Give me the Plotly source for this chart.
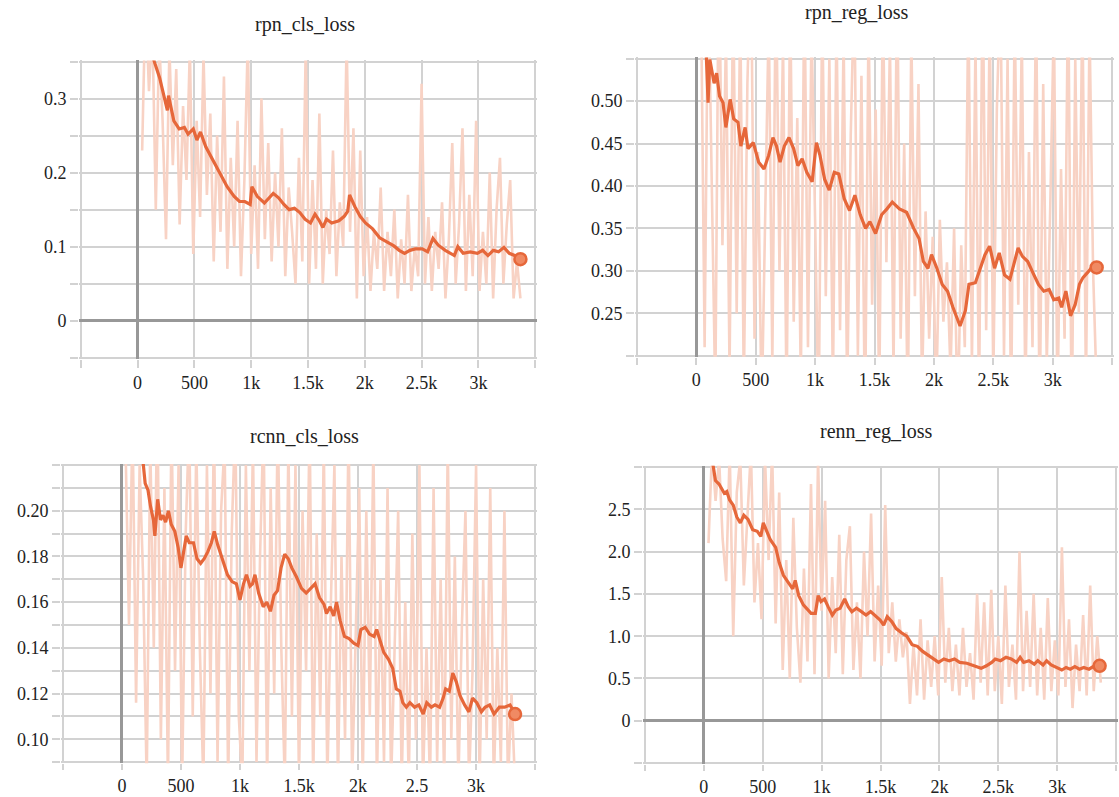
import plotly.graph_objects as go

# ---------------- data ----------------
# raw (unsmoothed) series: step start, step interval, values
rpn_cls_raw_start, rpn_cls_raw_step = 40, 30
rpn_cls_raw = [
    0.23, 0.44, 0.31, 0.40, 0.15, 0.38, 0.27, 0.11, 0.37, 0.21,
    0.34, 0.13, 0.29, 0.19, 0.37, 0.09, 0.27, 0.14, 0.36, 0.17,
    0.28, 0.08, 0.25, 0.12, 0.33, 0.07, 0.22, 0.10, 0.27, 0.06,
    0.19, 0.38, 0.09, 0.21, 0.07, 0.30, 0.11, 0.24, 0.08, 0.20,
    0.10, 0.26, 0.06, 0.18, 0.12, 0.05, 0.22, 0.08, 0.37, 0.05,
    0.19, 0.07, 0.28, 0.05, 0.15, 0.09, 0.23, 0.06, 0.16, 0.10,
    0.38, 0.12, 0.26, 0.03, 0.23, 0.06, 0.14, 0.04, 0.12, 0.07,
    0.18, 0.04, 0.12, 0.06, 0.15, 0.03, 0.11, 0.05, 0.17, 0.04,
    0.10, 0.06, 0.32, 0.05, 0.14, 0.04, 0.12, 0.07, 0.16, 0.03,
    0.11, 0.24, 0.05, 0.13, 0.26, 0.04, 0.17, 0.06, 0.27, 0.04,
    0.12, 0.05, 0.20, 0.03, 0.15, 0.22, 0.05, 0.13, 0.19, 0.03,
    0.08, 0.03,
]
rpn_cls_smooth_steps = [
    40, 147, 194, 240, 262, 272, 319, 366, 412, 444, 490, 522, 553, 600, 647,
    694, 741, 788, 850, 897, 944, 991, 1006, 1053, 1116, 1147, 1194, 1241,
    1288, 1334, 1381, 1428, 1475, 1522, 1562, 1600, 1631, 1663, 1709, 1772,
    1819, 1850, 1866, 1913, 1959, 2006, 2069, 2131, 2194, 2256, 2303, 2350,
    2397, 2444, 2506, 2553, 2600, 2647, 2709, 2788, 2819, 2866, 2928, 2991,
    3038, 3084, 3131, 3178, 3225, 3272, 3319, 3370,
]
rpn_cls_smooth = [
    0.42, 0.350, 0.328, 0.301, 0.284, 0.304, 0.270, 0.259, 0.261, 0.252,
    0.259, 0.244, 0.255, 0.235, 0.221, 0.208, 0.195, 0.181, 0.168, 0.161,
    0.161, 0.157, 0.181, 0.168, 0.159, 0.164, 0.172, 0.166, 0.157, 0.150,
    0.152, 0.146, 0.137, 0.132, 0.144, 0.135, 0.126, 0.137, 0.132, 0.135,
    0.141, 0.148, 0.170, 0.154, 0.141, 0.132, 0.124, 0.112, 0.106, 0.101,
    0.095, 0.091, 0.095, 0.097, 0.097, 0.093, 0.111, 0.102, 0.095, 0.088,
    0.100, 0.091, 0.093, 0.091, 0.095, 0.088, 0.095, 0.093, 0.099, 0.091,
    0.088, 0.083,
]

rpn_reg_raw_start, rpn_reg_raw_step = 40, 30
rpn_reg_raw = [
    0.62, 0.21, 0.66, 0.40, 0.15, 0.70, 0.33, 0.58, 0.18, 0.64,
    0.25, 0.61, 0.16, 0.52, 0.68, 0.22, 0.44, 0.13, 0.39, 0.60,
    0.19, 0.66, 0.30, 0.57, 0.14, 0.63, 0.24, 0.48, 0.17, 0.65,
    0.21, 0.59, 0.36, 0.12, 0.62, 0.27, 0.55, 0.16, 0.60, 0.23,
    0.58, 0.15, 0.46, 0.64, 0.20, 0.53, 0.11, 0.60, 0.26, 0.49,
    0.14, 0.63, 0.31, 0.57, 0.18, 0.66, 0.22, 0.45, 0.13, 0.58,
    0.27, 0.52, 0.16, 0.37, 0.22, 0.34, 0.15, 0.36, 0.24, 0.31,
    0.18, 0.35, 0.12, 0.33, 0.21, 0.62, 0.19, 0.57, 0.14, 0.66,
    0.23, 0.60, 0.17, 0.49, 0.64, 0.20, 0.55, 0.13, 0.61, 0.26,
    0.58, 0.15, 0.44, 0.21, 0.63, 0.12, 0.52, 0.19, 0.38, 0.60,
    0.14, 0.42, 0.22, 0.65, 0.11, 0.55, 0.25, 0.62, 0.16, 0.59,
    0.30, 0.16,
]
rpn_reg_smooth_steps = [
    80, 99, 114, 150, 171, 195, 225, 249, 285, 315, 351, 375, 411, 435, 480,
    525, 570, 609, 645, 675, 705, 741, 780, 819, 855, 891, 930, 975, 1011,
    1041, 1080, 1119, 1161, 1200, 1245, 1290, 1335, 1380, 1425, 1461, 1509,
    1560, 1605, 1650, 1710, 1770, 1830, 1875, 1911, 1950, 1980, 2025, 2070,
    2115, 2160, 2220, 2265, 2295, 2349, 2391, 2430, 2469, 2511, 2550, 2595,
    2640, 2670, 2709, 2745, 2790, 2829, 2880, 2925, 2970, 3009, 3051, 3075,
    3111, 3150, 3189, 3225, 3255, 3300, 3345, 3370,
]
rpn_reg_smooth = [
    0.570, 0.498, 0.549, 0.521, 0.533, 0.506, 0.498, 0.469, 0.502, 0.479,
    0.475, 0.447, 0.469, 0.444, 0.451, 0.428, 0.420, 0.436, 0.457, 0.447,
    0.428, 0.447, 0.457, 0.444, 0.424, 0.432, 0.416, 0.405, 0.451, 0.436,
    0.408, 0.395, 0.416, 0.414, 0.385, 0.371, 0.389, 0.366, 0.350, 0.358,
    0.344, 0.366, 0.373, 0.381, 0.373, 0.369, 0.350, 0.338, 0.311, 0.303,
    0.319, 0.303, 0.284, 0.276, 0.257, 0.235, 0.253, 0.284, 0.286, 0.303,
    0.319, 0.329, 0.303, 0.321, 0.295, 0.290, 0.307, 0.327, 0.317, 0.311,
    0.299, 0.284, 0.276, 0.278, 0.266, 0.268, 0.257, 0.276, 0.247, 0.260,
    0.284, 0.292, 0.299, 0.307, 0.304,
]

rcnn_cls_raw_start, rcnn_cls_raw_step = 30, 30
rcnn_cls_raw = [
    0.23, 0.15, 0.24, 0.116, 0.22, 0.17, 0.08, 0.23, 0.14, 0.25,
    0.10, 0.21, 0.08, 0.24, 0.13, 0.22, 0.08, 0.19, 0.24, 0.11,
    0.23, 0.14, 0.08, 0.22, 0.12, 0.24, 0.09, 0.20, 0.23, 0.08,
    0.19, 0.24, 0.11, 0.08, 0.22, 0.13, 0.23, 0.09, 0.18, 0.24,
    0.08, 0.21, 0.12, 0.24, 0.14, 0.08, 0.23, 0.11, 0.22, 0.08,
    0.20, 0.13, 0.24, 0.08, 0.19, 0.11, 0.23, 0.08, 0.16, 0.22,
    0.08, 0.18, 0.10, 0.24, 0.08, 0.15, 0.21, 0.08, 0.20, 0.11,
    0.23, 0.08, 0.17, 0.09, 0.21, 0.08, 0.14, 0.20, 0.08, 0.16,
    0.08, 0.19, 0.10, 0.22, 0.08, 0.14, 0.08, 0.21, 0.09, 0.17,
    0.08, 0.23, 0.10, 0.18, 0.08, 0.15, 0.20, 0.08, 0.13, 0.22,
    0.08, 0.17, 0.10, 0.21, 0.08, 0.14, 0.09, 0.20, 0.08, 0.12,
    0.08,
]
rcnn_cls_smooth_steps = [
    170, 197, 221, 242, 267, 279, 303, 327, 348, 370, 394, 418, 448, 476, 500,
    521, 545, 570, 606, 636, 667, 697, 727, 758, 782, 812, 848, 894, 933,
    970, 1000, 1030, 1055, 1085, 1106, 1127, 1158, 1197, 1227, 1258, 1288,
    1318, 1348, 1379, 1409, 1439, 1479, 1521, 1561, 1600, 1636, 1673, 1712,
    1733, 1764, 1794, 1818, 1848, 1885, 1924, 1964, 2000, 2024, 2061, 2097,
    2136, 2158, 2182, 2218, 2258, 2294, 2324, 2355, 2379, 2409, 2439, 2479,
    2515, 2552, 2582, 2621, 2652, 2691, 2721, 2742, 2773, 2803, 2833, 2864,
    2903, 2939, 2970, 3006, 3045, 3076, 3115, 3152, 3197, 3242, 3288, 3330,
]
rcnn_cls_smooth = [
    0.226, 0.212, 0.209, 0.202, 0.196, 0.189, 0.205, 0.196, 0.198, 0.195,
    0.200, 0.194, 0.191, 0.184, 0.175, 0.181, 0.189, 0.186, 0.186, 0.179,
    0.177, 0.179, 0.182, 0.186, 0.191, 0.185, 0.179, 0.172, 0.169, 0.168,
    0.161, 0.168, 0.172, 0.167, 0.168, 0.172, 0.164, 0.158, 0.160, 0.156,
    0.163, 0.165, 0.175, 0.181, 0.179, 0.175, 0.171, 0.166, 0.164, 0.166,
    0.168, 0.162, 0.159, 0.155, 0.158, 0.154, 0.160, 0.152, 0.145, 0.144,
    0.142, 0.141, 0.148, 0.149, 0.146, 0.145, 0.148, 0.144, 0.138, 0.135,
    0.131, 0.122, 0.121, 0.116, 0.114, 0.116, 0.114, 0.115, 0.111, 0.116,
    0.114, 0.115, 0.114, 0.118, 0.122, 0.121, 0.129, 0.125, 0.119, 0.115,
    0.112, 0.118, 0.116, 0.112, 0.114, 0.115, 0.111, 0.114, 0.114, 0.115,
    0.111,
]

rcnn_reg_raw_start, rcnn_reg_raw_step = 40, 30
rcnn_reg_raw = [
    2.10, 3.20, 2.60, 3.10, 2.15, 1.65, 3.20, 1.00, 2.70, 3.10,
    1.60, 2.50, 3.20, 1.40, 2.10, 1.20, 3.10, 1.90, 3.20, 1.15,
    2.70, 0.60, 1.90, 0.50, 2.40, 1.10, 0.45, 1.80, 0.70, 2.80,
    0.55, 3.10, 1.30, 2.60, 0.50, 1.70, 0.80, 2.20, 0.55, 1.90,
    2.30, 0.60, 1.40, 0.50, 2.00, 1.00, 2.45, 0.70, 1.60, 0.65,
    2.55, 0.80, 1.40, 0.70, 1.20, 0.75, 1.05, 0.20, 0.90, 0.30,
    1.20, 0.25, 0.95, 0.40, 1.00, 0.30, 1.70, 0.45, 1.10, 0.35,
    0.90, 0.30, 1.10, 0.40, 0.80, 0.25, 1.50, 0.45, 1.40, 0.30,
    1.55, 0.35, 1.00, 0.20, 1.60, 0.40, 0.90, 0.25, 2.00, 0.35,
    1.30, 0.40, 1.50, 0.30, 1.10, 0.25, 1.45, 0.35, 0.95, 0.30,
    2.05, 0.40, 1.20, 0.15, 0.90, 0.35, 1.25, 0.30, 1.60, 0.35,
    1.00, 0.45,
]
rcnn_reg_smooth_steps = [
    70, 99, 129, 153, 174, 195, 219, 250, 280, 310, 340, 376, 415, 454, 484,
    505, 535, 565, 595, 610, 640, 676, 715, 755, 776, 806, 845, 881, 911,
    947, 971, 995, 1025, 1055, 1091, 1121, 1157, 1196, 1226, 1257, 1296,
    1338, 1377, 1416, 1452, 1497, 1527, 1557, 1597, 1633, 1678, 1723, 1768,
    1813, 1858, 1903, 1948, 1993, 2038, 2083, 2128, 2173, 2233, 2294, 2354,
    2399, 2444, 2474, 2519, 2565, 2610, 2655, 2685, 2715, 2760, 2805, 2835,
    2880, 2910, 2949, 2991, 3039, 3075, 3111, 3150, 3189, 3225, 3270, 3315,
    3360,
]
rcnn_reg_smooth = [
    3.10, 2.84, 2.80, 2.74, 2.69, 2.71, 2.61, 2.55, 2.41, 2.34,
    2.43, 2.38, 2.26, 2.24, 2.18, 2.34, 2.24, 2.14, 2.08, 2.05,
    1.87, 1.72, 1.64, 1.56, 1.66, 1.48, 1.37, 1.31, 1.27, 1.27,
    1.48, 1.41, 1.44, 1.35, 1.25, 1.31, 1.33, 1.44, 1.35, 1.29,
    1.33, 1.29, 1.25, 1.29, 1.25, 1.19, 1.13, 1.23, 1.17, 1.09,
    1.04, 1.00, 0.90, 0.88, 0.82, 0.78, 0.73, 0.69, 0.73, 0.71,
    0.73, 0.69, 0.68, 0.65, 0.62, 0.65, 0.69, 0.73, 0.71, 0.75,
    0.73, 0.69, 0.75, 0.69, 0.71, 0.67, 0.71, 0.66, 0.71, 0.66,
    0.63, 0.60, 0.63, 0.61, 0.64, 0.61, 0.63, 0.61, 0.65, 0.65,
]

panel_titles = ["rpn_cls_loss", "rpn_reg_loss", "rcnn_cls_loss", "renn_reg_loss"]

x_tickvals = [-500, 0, 500, 1000, 1500, 2000, 2500, 3000, 3500]
x_ticktext_a = ["", "0", "500", "1k", "1.5k", "2k", "2.5k", "3k", ""]
x_ticktext_c = ["", "0", "500", "1k", "1.5k", "2k", "2.5", "3k", ""]

y1_tickvals = [-0.05, 0, 0.05, 0.1, 0.15, 0.2, 0.25, 0.3, 0.35]
y1_ticktext = ["", "0", "", "0.1", "", "0.2", "", "0.3", ""]
y2_tickvals = [0.20, 0.25, 0.30, 0.35, 0.40, 0.45, 0.50, 0.55]
y2_ticktext = ["", "0.25", "0.30", "0.35", "0.40", "0.45", "0.50", ""]
y3_tickvals = [0.09, 0.10, 0.11, 0.12, 0.13, 0.14, 0.15, 0.16, 0.17, 0.18,
               0.19, 0.20, 0.21, 0.22]
y3_ticktext = ["", "0.10", "", "0.12", "", "0.14", "", "0.16", "", "0.18",
               "", "0.20", "", ""]
y4_tickvals = [-0.5, 0, 0.5, 1.0, 1.5, 2.0, 2.5, 3.0]
y4_ticktext = ["", "0", "0.5", "1.0", "1.5", "2.0", "2.5", ""]

# ---------------- figure ----------------
W, H = 1119, 797
RAW_COLOR = "#f8d2c4"
SMOOTH_COLOR = "#e6673a"
GRID = "#d2d2d2"
ZERO = "#989898"
FONT = "Liberation Serif"


def px_x(a, b):
    return [a / W, b / W]


def px_y(top, bottom):
    return [1 - bottom / H, 1 - top / H]


def padded(lo, hi, frac=0.004):
    d = (hi - lo) * frac
    return [lo - d, hi + d]


panels = [
    dict(raw=rpn_cls_raw, start=rpn_cls_raw_start, step=rpn_cls_raw_step,
         sx=rpn_cls_smooth_steps, sy=rpn_cls_smooth,
         xd=px_x(79, 537), yd=px_y(61, 362), yr=padded(-0.05, 0.35),
         yt=(y1_tickvals, y1_ticktext), xt=x_ticktext_a, zero=True, tl=8),
    dict(raw=rpn_reg_raw, start=rpn_reg_raw_start, step=rpn_reg_raw_step,
         sx=rpn_reg_smooth_steps, sy=rpn_reg_smooth,
         xd=px_x(635, 1114), yd=px_y(58, 360), yr=padded(0.20, 0.55),
         yt=(y2_tickvals, y2_ticktext), xt=x_ticktext_a, zero=False, tl=7),
    dict(raw=rcnn_cls_raw, start=rcnn_cls_raw_start, step=rcnn_cls_raw_step,
         sx=rcnn_cls_smooth_steps, sy=rcnn_cls_smooth,
         xd=px_x(61, 537), yd=px_y(468, 770), yr=padded(0.09, 0.22),
         yt=(y3_tickvals, y3_ticktext), xt=x_ticktext_c, zero=False, tl=6),
    dict(raw=rcnn_reg_raw, start=rcnn_reg_raw_start, step=rcnn_reg_raw_step,
         sx=rcnn_reg_smooth_steps, sy=rcnn_reg_smooth,
         xd=px_x(643, 1118), yd=px_y(470, 771), yr=padded(-0.5, 3.0),
         yt=(y4_tickvals, y4_ticktext), xt=x_ticktext_a, zero=True, tl=6),
]

title_pos = [(305, 25), (857, 13), (304, 440), (876, 435)]

fig = go.Figure()
layout = dict(
    width=W, height=H, margin=dict(l=0, r=0, t=0, b=0),
    paper_bgcolor="white", plot_bgcolor="white", showlegend=False,
    font=dict(family=FONT, size=18, color="#222"),
    annotations=[],
)

for i, p in enumerate(panels):
    n = i + 1
    xa = "x" if n == 1 else f"x{n}"
    ya = "y" if n == 1 else f"y{n}"
    raw_x = [p["start"] + k * p["step"] for k in range(len(p["raw"]))]
    fig.add_trace(go.Scatter(x=raw_x, y=p["raw"], mode="lines",
                             line=dict(color=RAW_COLOR, width=2.6),
                             xaxis=xa, yaxis=ya, hoverinfo="skip"))
    fig.add_trace(go.Scatter(x=p["sx"], y=p["sy"], mode="lines",
                             line=dict(color=SMOOTH_COLOR, width=3.2),
                             xaxis=xa, yaxis=ya))
    fig.add_trace(go.Scatter(x=[p["sx"][-1]], y=[p["sy"][-1]], mode="markers",
                             marker=dict(size=12, color="#f08a63",
                                         line=dict(color=SMOOTH_COLOR, width=2.5)),
                             xaxis=xa, yaxis=ya, cliponaxis=False))
    axis_common = dict(showgrid=True, gridcolor=GRID, gridwidth=2,
                       ticks="outside", tickwidth=2, tickcolor=GRID,
                       showline=False,
                       tickfont=dict(family=FONT, size=18, color="#222"))
    layout[f"xaxis{'' if n == 1 else n}"] = dict(
        domain=p["xd"], range=padded(-500, 3500), anchor=ya,
        tickmode="array", tickvals=x_tickvals, ticktext=p["xt"], ticklen=p["tl"],
        zeroline=True, zerolinecolor=ZERO, zerolinewidth=3, **axis_common)
    layout[f"yaxis{'' if n == 1 else n}"] = dict(
        domain=p["yd"], range=p["yr"], anchor=xa, ticklen=8,
        tickmode="array", tickvals=p["yt"][0], ticktext=p["yt"][1],
        zeroline=p["zero"], zerolinecolor=ZERO, zerolinewidth=3, **axis_common)
    tx, ty = title_pos[i]
    layout["annotations"].append(dict(
        text=panel_titles[i], x=tx / W, y=1 - ty / H, xref="paper", yref="paper",
        showarrow=False, xanchor="center", yanchor="middle",
        font=dict(family=FONT, size=20, color="#222")))

fig.update_layout(**layout)
fig.write_html(
    "out.html",
    config={"displayModeBar": False},
    post_script="document.body.style.margin='0';document.body.style.overflow='hidden';",
)
